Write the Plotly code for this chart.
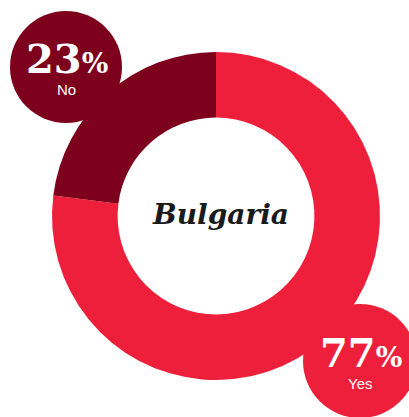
import plotly.graph_objects as go

# Survey result for one country
country = "Bulgaria"
answers = ["Yes", "No"]
shares = [77, 23]
colors = ["#EE1F3A", "#7D001C"]

W, H = 409, 417

def px(x):
    return x / W

def py(y):
    return 1 - y / H

fig = go.Figure(
    go.Pie(
        labels=answers,
        values=shares,
        hole=0.6,
        sort=False,
        direction="clockwise",
        rotation=0,
        marker=dict(colors=colors, line=dict(width=0)),
        textinfo="none",
        hoverinfo="label+percent",
        domain=dict(x=[px(52), px(380)], y=[py(380), py(52)]),
        showlegend=False,
    )
)

# Badge circles: (center x, center y, radius) in pixels, per answer
badges = {"Yes": (360, 361, 57), "No": (66, 67, 56)}

shapes = []
annotations = []
for ans, val, col in zip(answers, shares, colors):
    cx, cy, r = badges[ans]
    shapes.append(dict(
        type="circle", xref="paper", yref="paper",
        x0=px(cx - r), x1=px(cx + r), y0=py(cy + r), y1=py(cy - r),
        fillcolor=col, line=dict(width=0), layer="above",
    ))
    annotations.append(dict(
        x=px(cx + 1), y=py(cy - 9), xref="paper", yref="paper",
        text=f"<b>{val}<span style='font-size:28px'>%</span></b>",
        showarrow=False, xanchor="center", yanchor="middle",
        font=dict(family="DejaVu Serif", size=40, color="white"),
    ))
    annotations.append(dict(
        x=px(cx), y=py(cy + 22), xref="paper", yref="paper",
        text=ans, showarrow=False, xanchor="center", yanchor="middle",
        font=dict(family="Liberation Sans, Arial", size=15, color="white"),
    ))

annotations.append(dict(
    x=px(220), y=py(214), xref="paper", yref="paper",
    text=f"<b><i>{country}</i></b>", showarrow=False,
    xanchor="center", yanchor="middle",
    font=dict(family="DejaVu Serif", size=28, color="#1a1a1a"),
))

fig.update_layout(
    width=W, height=H,
    margin=dict(l=0, r=0, t=0, b=0),
    paper_bgcolor="white", plot_bgcolor="white",
    shapes=shapes, annotations=annotations,
)

fig.write_html("out.html")
